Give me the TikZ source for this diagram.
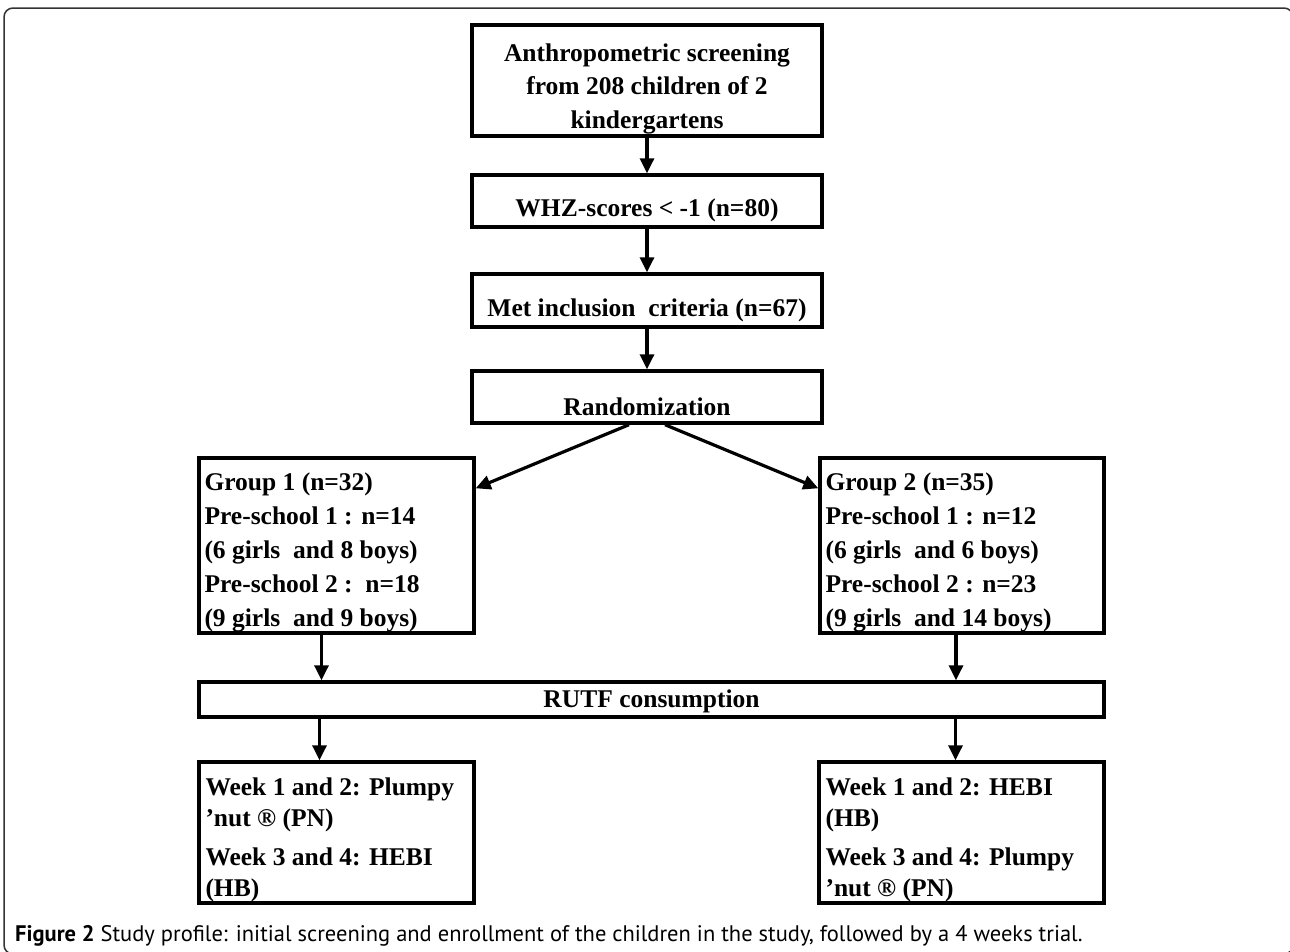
\documentclass[tikz,border=0pt]{standalone}
\usepackage{fontspec}
\setmainfont{Liberation Serif}
\newfontfamily\capfont{PT Sans}
\usetikzlibrary{arrows.meta}
\begin{document}
\begin{tikzpicture}[x=1pt,y=-1pt,
  box/.style={draw=black, line width=3.4pt, inner sep=0pt, rectangle},
  txt/.style={font=\bfseries\fontsize{25.5}{33.5}\selectfont, inner sep=0pt},
  grptxt/.style={font=\bfseries\fontsize{25.5}{34}\selectfont, inner sep=0pt},
  wktxt/.style={font=\bfseries\fontsize{25.5}{31}\selectfont, inner sep=0pt},
  arr/.style={line width=3.2pt, -{Triangle[width=14pt,length=15pt]}},
  frame/.style={draw=black!80, line width=1.5pt, rounded corners=9pt}
]
\useasboundingbox (0,0) rectangle (1290,951);
\draw[frame] (4,8) rectangle (1293,954);

\node[box, minimum width=350pt, minimum height=111pt,
  label={[txt, align=center, yshift=-8pt]center:{Anthropometric screening\\from 208 children of 2\\kindergartens}}] (b1) at (647,80.5) {};
\node[box, minimum width=350pt, minimum height=52pt,
  label={[txt, yshift=-9pt]center:{WHZ-scores < -1 (n=80)}}] (b2) at (647,201) {};
\node[box, minimum width=350pt, minimum height=53pt,
  label={[txt, yshift=-10pt]center:{Met inclusion\ \ criteria (n=67)}}] (b3) at (647,300.5) {};
\node[box, minimum width=350pt, minimum height=52pt,
  label={[txt, yshift=-10pt]center:{Randomization}}] (b4) at (647,397) {};

\node[box, minimum width=275pt, minimum height=175pt,
  label={[grptxt, align=left, anchor=north west, xshift=7pt, yshift=-16pt]north west:{Group 1 (n=32)\\Pre-school 1 : n=14\\(6 girls\ \ and 8 boys)\\Pre-school 2 :\ \ n=18\\(9 girls\ \ and 9 boys)}}] (g1) at (336.5,545.5) {};
\node[box, minimum width=284pt, minimum height=175pt,
  label={[grptxt, align=left, anchor=north west, xshift=7pt, yshift=-16pt]north west:{Group 2 (n=35)\\Pre-school 1 : n=12\\(6 girls\ \ and 6 boys)\\Pre-school 2 : n=23\\(9 girls\ \ and 14 boys)}}] (g2) at (962,545.5) {};

\node[box, minimum width=905pt, minimum height=35pt,
  label={[txt, yshift=-2pt]center:{RUTF consumption}}] (rutf) at (651.5,699.5) {};

\node[box, minimum width=275pt, minimum height=141pt,
  label={[wktxt, align=left, anchor=north west, xshift=8pt, yshift=-17pt]north west:{Week 1 and 2: Plumpy\\'nut ® (PN)\\[8pt]Week 3 and 4: HEBI\\(HB)}}] (w1) at (336.5,832.5) {};
\node[box, minimum width=285pt, minimum height=141pt,
  label={[wktxt, align=left, anchor=north west, xshift=8pt, yshift=-17pt]north west:{Week 1 and 2: HEBI\\(HB)\\[8pt]Week 3 and 4: Plumpy\\'nut ® (PN)}}] (w2) at (961.5,832.5) {};

\draw[arr] (b1.south) -- (b2.north);
\draw[arr] (b2.south) -- (b3.north);
\draw[arr] (b3.south) -- (b4.north);
\draw[arr] ([xshift=-18pt]b4.south) -- ([yshift=-32pt]g1.north east);
\draw[arr] ([xshift=18pt]b4.south) -- ([yshift=-32pt]g2.north west);
\draw[arr] ([xshift=-15pt]g1.south) -- ([xshift=-15pt]g1.south |- rutf.north);
\draw[arr] ([xshift=-6pt]g2.south) -- ([xshift=-6pt]g2.south |- rutf.north);
\draw[arr] ([xshift=-17pt]w1.north |- rutf.south) -- ([xshift=-17pt]w1.north);
\draw[arr] ([xshift=-6pt]w2.north |- rutf.south) -- ([xshift=-6pt]w2.north);

\node[anchor=base west, inner sep=0pt, font=\capfont\fontsize{22.5}{25}\selectfont] (cap) at (15,941)
  {\textbf{Figure 2} Study profile: initial screening and enrollment of the children in the study, followed by a 4 weeks trial.};
\end{tikzpicture}
\end{document}
